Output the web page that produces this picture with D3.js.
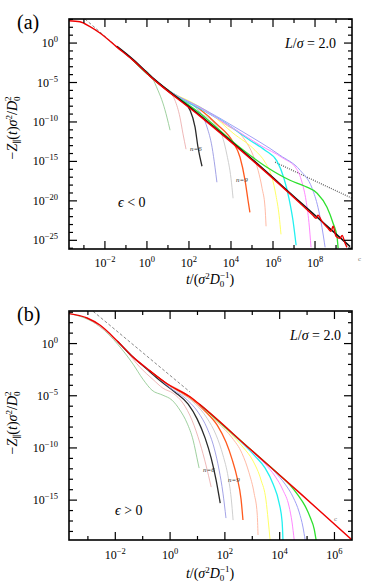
<!DOCTYPE html>
<html>
<head>
<meta charset="utf-8">
<script src="https://cdn.jsdelivr.net/npm/d3@7"></script>
<style>
  body { margin: 0; background: #fff; }
  svg { display: block; font-family: 'Liberation Serif', 'DejaVu Serif', serif; }
</style>
</head>
<body>
<div id="chart"></div>
<script>
// all values are log10 exponents: [log10 t, log10 (-Z)]

// ---- panel (a), eps < 0 ----
const xMajorA = [-2, 0, 2, 4, 6, 8];
const xMinorA = [-3, -1, 1, 3, 5, 7, 9];
const yMajorA = [0, -5, -10, -15, -20, -25];
const yMinorA = d3.range(-26, 4).filter((d) => d % 5 !== 0);

const redA = [
  [-3.71, 2.83], [-3.19, 2.7], [-2.71, 2.07], [-2.24, 1.27], [-1.43, -0.51], [-0.67, -2.16],
  [0.14, -4.19], [2.52, -9.26], [4.9, -14.59], [7.29, -20.3], [7.9, -21.83], [8.05, -22.21],
  [8.14, -21.83], [8.33, -22.59], [8.62, -23.48], [8.76, -23.86], [8.86, -23.22], [9.0, -24.49],
  [9.19, -24.75], [9.29, -24.37], [9.43, -25.38], [9.52, -25.89],
];
const blackA = [[-1.43, -0.42], [-0.67, -2.06], [0.14, -4.08], [2.52, -9.15], [4.9, -14.47], [7.29, -20.15], [9.67, -25.8]];
const n4A = [[-0.67, -2.16], [-0.33, -3.0], [0.24, -4.35], [0.52, -5.96], [0.76, -7.61], [0.95, -9.39], [1.1, -11.04]];
const n5A = [[-0.67, -2.16], [0.14, -4.19], [0.6, -5.2], [0.95, -5.95], [1.33, -7.23], [1.57, -9.39], [1.71, -11.42], [1.86, -13.45]];
const n6A = [[-0.67, -2.16], [0.14, -4.19], [1.1, -6.3], [1.71, -7.45], [2.05, -8.5], [2.29, -10.66], [2.43, -13.2], [2.62, -15.61]];
const n7A = [[-0.67, -2.16], [0.14, -4.19], [1.1, -6.2], [1.57, -7.1], [2.52, -8.7], [2.86, -10.66], [3.1, -13.2], [3.24, -15.74], [3.33, -17.64]];
const n8A = [[-0.67, -2.16], [0.14, -4.19], [1.1, -6.2], [2.0, -7.9], [2.52, -8.85], [3.24, -10.28], [3.57, -11.68], [3.81, -14.21], [4.0, -17.13], [4.1, -19.67]];
const n9A = [[-0.67, -2.16], [0.14, -4.19], [1.1, -6.15], [2.52, -8.38], [3.33, -10.28], [4.1, -12.56], [4.43, -14.47], [4.67, -17.39], [4.81, -19.92], [4.9, -21.45]];
const n10A = [[-0.67, -2.16], [0.14, -4.19], [1.1, -6.15], [1.57, -6.95], [2.52, -8.25], [3.71, -10.28], [4.67, -12.31], [5.05, -14.21], [5.29, -16.12], [5.48, -18.4], [5.62, -20.81], [5.67, -23.22]];
const n11A = [[-0.67, -2.16], [0.14, -4.19], [1.1, -6.15], [2.05, -7.4], [3.0, -8.9], [4.1, -11.42], [5.14, -13.58], [5.62, -15.1], [5.95, -17.01], [6.14, -19.29], [6.29, -21.83], [6.38, -24.24]];
const n12A = [[-0.67, -2.16], [0.14, -4.19], [1.1, -6.15], [2.52, -8.3], [3.57, -9.85], [4.9, -12.31], [5.62, -13.58], [6.19, -14.97], [6.52, -17.13], [6.76, -19.67], [6.95, -22.46], [7.1, -25.63]];
const n13A = [[-0.67, -2.16], [0.14, -4.19], [1.1, -6.15], [2.52, -8.2], [3.95, -10.53], [5.38, -12.94], [6.48, -14.59], [7.1, -15.86], [7.38, -17.64], [7.57, -19.92], [7.71, -22.72], [7.81, -25.89]];
const n14A = [[-0.67, -2.16], [0.14, -4.19], [1.1, -6.15], [2.52, -8.1], [4.43, -11.04], [6.33, -14.21], [7.29, -16.12], [7.86, -18.4], [8.14, -20.81], [8.33, -23.35], [8.48, -25.89]];
const n15A = [[-0.67, -2.16], [0.14, -4.19], [1.1, -6.2], [2.52, -8.9], [4.29, -12.94], [5.71, -15.74], [6.81, -17.39], [7.52, -18.15], [8.1, -19.04], [8.57, -20.81], [8.86, -22.84], [9.05, -24.62], [9.1, -26.02]];
const dottedA = [[6.1, -15.1], [9.76, -19.67]];
const dashedA = [[-2.95, 3.05], [0.62, -5.2]];

// ---- panel (b), eps > 0 ----
const xMajorB = [-2, 0, 2, 4, 6];
const xMinorB = [-3, -1, 1, 3, 5];
const yMajorB = [0, -5, -10, -15];
const yMinorB = d3.range(-18, 4).filter((d) => d % 5 !== 0);

const redB = [
  [-3.69, 2.87], [-3.03, 2.45], [-2.55, 1.75], [-1.93, 0.25], [-1.35, -1.3], [-0.73, -2.62],
  [-0.11, -3.85], [0.73, -5.1], [1.09, -5.85], [2.92, -10.11], [4.74, -14.33], [6.64, -18.82],
];
const n4B = [[-3.69, 2.9], [-2.55, 1.6], [-1.9, -0.1], [-1.35, -1.98], [-0.99, -3.42], [-0.66, -4.47], [-0.26, -4.95], [0.07, -5.42], [0.36, -6.38], [0.62, -7.62], [0.84, -9.25], [1.02, -11.45], [1.06, -11.93]];
const n5B = [[-3.03, 2.45], [-2.19, 0.85], [-1.64, -0.6], [-1.09, -2.3], [-0.62, -3.45], [-0.26, -4.28], [0.11, -4.76], [0.47, -5.71], [0.8, -7.34], [1.09, -9.54], [1.31, -11.64], [1.5, -13.75]];
const n6B = [[-1.93, 0.25], [-1.35, -1.3], [-0.73, -2.72], [-0.37, -3.55], [0.18, -4.66], [0.66, -5.81], [0.99, -7.24], [1.28, -9.06], [1.5, -10.97], [1.68, -13.08], [1.83, -15.28]];
const n7B = [[-1.35, -1.3], [-0.73, -2.62], [-0.36, -3.45], [0.0, -4.25], [0.55, -5.23], [1.02, -6.57], [1.35, -8.1], [1.61, -10.02], [1.79, -12.12], [1.93, -14.33], [2.04, -16.72]];
const n8B = [[-0.73, -2.62], [-0.36, -3.35], [0.0, -4.1], [0.37, -4.72], [0.91, -5.75], [1.35, -7.15], [1.68, -8.77], [1.93, -10.69], [2.12, -12.79], [2.23, -14.8], [2.3, -16.91]];
const n9B = [[-0.73, -2.62], [-0.11, -3.85], [0.37, -4.62], [0.73, -5.2], [1.28, -6.48], [1.72, -7.82], [2.04, -9.44], [2.26, -11.07], [2.45, -12.89], [2.59, -14.9], [2.66, -16.91]];
const n10B = [[-0.11, -3.85], [0.73, -5.1], [1.1, -5.95], [1.75, -7.59], [2.26, -9.02], [2.63, -10.55], [2.88, -12.37], [3.07, -14.38], [3.18, -16.33], [3.21, -18.34]];
const n11B = [[0.73, -5.1], [1.09, -5.85], [1.46, -6.8], [2.19, -8.58], [2.66, -9.92], [3.03, -11.26], [3.32, -13.08], [3.5, -14.99], [3.58, -16.91], [3.65, -18.82]];
const n12B = [[1.09, -5.85], [1.46, -6.71], [1.83, -7.6], [2.56, -9.35], [3.1, -10.78], [3.47, -11.93], [3.76, -13.46], [3.98, -15.28], [4.09, -17.1], [4.12, -18.82]];
const n13B = [[1.09, -5.85], [1.46, -6.71], [1.83, -7.57], [2.19, -8.45], [2.92, -10.21], [3.47, -11.55], [3.83, -12.7], [4.12, -14.04], [4.34, -15.57], [4.45, -17.1], [4.53, -18.82]];
const n14B = [[1.09, -5.85], [1.83, -7.57], [2.19, -8.41], [2.56, -9.3], [3.29, -10.98], [3.83, -12.32], [4.2, -13.47], [4.49, -14.71], [4.71, -16.14], [4.85, -17.58], [4.93, -18.82]];
const n15B = [[1.09, -5.85], [1.83, -7.57], [2.19, -8.41], [2.56, -9.27], [3.47, -11.36], [4.02, -12.65], [4.38, -13.56], [4.67, -14.52], [4.93, -15.57], [5.11, -16.62], [5.26, -17.77], [5.33, -18.82]];
const dashedB = [[-2.81, 3.09], [0.73, -4.65]];

// colours for n = 4 ... 15
const familyColors = ['#86c486', '#eaa6a6', '#2a2a2a', '#8c8ce0', '#c9c9c9', '#ff5a1e',
  '#ffbba6', '#ffff66', '#22f0f0', '#ff88ff', '#a0a0f6', '#2ee02e'];
const familyWidths = [0.8, 0.8, 1.3, 0.8, 0.9, 1.3, 1.0, 1.0, 1.3, 1.0, 1.0, 1.3];

const W = 380, H = 582;
const svg = d3.select('#chart').append('svg').attr('width', W).attr('height', H);

function pow10(text, e) {
  text.text('10');
  text.append('tspan').attr('dy', -5).attr('font-size', 8.5).text(e < 0 ? '\u2212' + -e : e);
}

function drawPanel(cfg) {
  const { left, right, top, bottom, xDom, yDom } = cfg;
  const x = d3.scaleLog().domain(xDom.map((d) => 10 ** d)).range([left, right]);
  const y = d3.scaleLog().domain(yDom.map((d) => 10 ** d)).range([bottom, top]);
  const g = svg.append('g').attr('id', cfg.id);

  const clipId = 'clip-' + cfg.id;
  g.append('clipPath').attr('id', clipId)
    .append('rect').attr('x', left).attr('y', top).attr('width', right - left).attr('height', bottom - top);

  const line = d3.line()
    .x((d) => x(10 ** d[0]))
    .y((d) => y(10 ** d[1]))
    .curve(d3.curveMonotoneX);

  const plot = g.append('g').attr('clip-path', `url(#${clipId})`);

  // reference lines
  plot.append('path').attr('d', line(cfg.dashed)).attr('fill', 'none')
    .attr('stroke', '#555').attr('stroke-width', 0.7).attr('stroke-dasharray', '3,2');
  if (cfg.dotted) {
    plot.append('path').attr('d', d3.line().x((d) => x(10 ** d[0])).y((d) => y(10 ** d[1]))(cfg.dotted))
      .attr('fill', 'none').attr('stroke', '#666').attr('stroke-width', 1.3).attr('stroke-dasharray', '1,1.2');
  }

  // n = 4 ... 15
  plot.selectAll('path.fam')
    .data(cfg.family)
    .enter()
    .append('path')
    .attr('class', 'fam')
    .attr('d', (d) => line(d))
    .attr('fill', 'none')
    .attr('stroke', (d, i) => familyColors[i])
    .attr('stroke-width', (d, i) => familyWidths[i]);

  if (cfg.black) {
    plot.append('path').attr('d', line(cfg.black)).attr('fill', 'none')
      .attr('stroke', '#111').attr('stroke-width', 1.5);
  }
  plot.append('path').attr('d', line(cfg.red)).attr('fill', 'none')
    .attr('stroke', '#ee0000').attr('stroke-width', 1.4);

  // ticks, inside on all four sides
  const majLen = 8, minLen = 4;
  const tk = g.append('g').attr('stroke', '#000').attr('stroke-width', 1.2);
  const xt = cfg.xMajor.map((d) => [d, majLen]).concat(cfg.xMinor.map((d) => [d, minLen]));
  const yt = cfg.yMajor.map((d) => [d, majLen]).concat(cfg.yMinor.map((d) => [d, minLen]));
  xt.forEach(([d, l]) => {
    const px = x(10 ** d);
    tk.append('line').attr('x1', px).attr('x2', px).attr('y1', bottom).attr('y2', bottom - l);
    tk.append('line').attr('x1', px).attr('x2', px).attr('y1', top).attr('y2', top + l);
  });
  yt.forEach(([d, l]) => {
    const py = y(10 ** d);
    tk.append('line').attr('y1', py).attr('y2', py).attr('x1', left).attr('x2', left + l);
    tk.append('line').attr('y1', py).attr('y2', py).attr('x1', right).attr('x2', right - l);
  });

  g.append('rect').attr('x', left).attr('y', top).attr('width', right - left).attr('height', bottom - top)
    .attr('fill', 'none').attr('stroke', '#000').attr('stroke-width', 1.6);

  // tick labels
  cfg.xMajor.forEach((d) => {
    g.append('text').attr('x', x(10 ** d)).attr('y', bottom + cfg.xTickDy)
      .attr('text-anchor', 'middle').attr('font-size', 12).call(pow10, d);
  });
  cfg.yMajor.forEach((d) => {
    g.append('text').attr('x', left - 11).attr('y', y(10 ** d) + 4)
      .attr('text-anchor', 'end').attr('font-size', 12).call(pow10, d);
  });

  // panel letter
  g.append('text').attr('x', 17).attr('y', top + 10).attr('font-size', 20).text(cfg.letter);

  // y label
  const yl = g.append('text').attr('transform', `translate(17, ${cfg.yLabelMid}) rotate(-90)`)
    .attr('text-anchor', 'middle').attr('font-size', 14);
  yl.append('tspan').text('\u2212');
  yl.append('tspan').attr('font-style', 'italic').text('Z');
  yl.append('tspan').attr('font-size', 9).attr('dy', 3).text('\u2225');
  yl.append('tspan').attr('dy', -3).text('(');
  yl.append('tspan').attr('font-style', 'italic').text('t');
  yl.append('tspan').text(')');
  yl.append('tspan').attr('font-style', 'italic').text('\u03c3');
  yl.append('tspan').attr('font-size', 9).attr('dy', -5).text('2');
  yl.append('tspan').attr('dy', 5).text('/');
  yl.append('tspan').attr('font-style', 'italic').text('D');
  yl.append('tspan').attr('font-size', 9).attr('dy', 3).text('0');
  yl.append('tspan').attr('font-size', 9).attr('dx', -4.5).attr('dy', -9).text('2');

  // x label
  const xl = g.append('text').attr('x', 210).attr('y', cfg.xLabelY)
    .attr('text-anchor', 'middle').attr('font-size', 14);
  xl.append('tspan').attr('font-style', 'italic').text('t');
  xl.append('tspan').text('/(');
  xl.append('tspan').attr('font-style', 'italic').text('\u03c3');
  xl.append('tspan').attr('font-size', 9).attr('dy', -5).text('2');
  xl.append('tspan').attr('dy', 5).attr('font-style', 'italic').text('D');
  xl.append('tspan').attr('font-size', 9).attr('dy', 3).text('0');
  xl.append('tspan').attr('font-size', 9).attr('dx', -4.5).attr('dy', -9).text('\u22121');
  xl.append('tspan').attr('dy', 6).text(')');

  // L / sigma
  const ls = g.append('text').attr('x', cfg.lsX).attr('y', top + 29)
    .attr('text-anchor', 'end').attr('font-size', 14);
  ls.append('tspan').attr('font-style', 'italic').text('L');
  ls.append('tspan').text('/');
  ls.append('tspan').attr('font-style', 'italic').text('\u03c3');
  ls.append('tspan').text(' = 2.0');

  // epsilon
  const ep = g.append('text').attr('x', cfg.epsPos[0]).attr('y', cfg.epsPos[1]).attr('font-size', 14);
  ep.append('tspan').attr('font-style', 'italic').text('\u03f5');
  ep.append('tspan').text(cfg.epsText);

  // small labels
  const small = (px, py, t) => g.append('text').attr('x', px).attr('y', py)
    .attr('font-size', 7).attr('fill', '#333').text(t);
  small(cfg.n6Pos[0], cfg.n6Pos[1], 'n=6').attr('font-style', 'italic');
  small(cfg.n9Pos[0], cfg.n9Pos[1], 'n=9').attr('font-style', 'italic');
  small(cfg.cPos[0], cfg.cPos[1], 'c').attr('fill', '#777');
}

drawPanel({
  id: 'a', letter: '(a)', left: 69, right: 352, top: 19, bottom: 249,
  xDom: [-3.71, 9.76], yDom: [-26.1, 3.05],
  xMajor: xMajorA, xMinor: xMinorA, yMajor: yMajorA, yMinor: yMinorA,
  red: redA, black: blackA, dashed: dashedA, dotted: dottedA,
  family: [n4A, n5A, n6A, n7A, n8A, n9A, n10A, n11A, n12A, n13A, n14A, n15A],
  yLabelMid: 128, xLabelY: 284, xTickDy: 18, lsX: 336, epsPos: [118, 207], epsText: ' < 0',
  n6Pos: [190, 151], n9Pos: [236, 182], cPos: [358, 261],
});

drawPanel({
  id: 'b', letter: '(b)', left: 69, right: 352, top: 311, bottom: 540,
  xDom: [-3.69, 6.64], yDom: [-18.82, 3.12],
  xMajor: xMajorB, xMinor: xMinorB, yMajor: yMajorB, yMinor: yMinorB,
  red: redB, black: null, dashed: dashedB, dotted: null,
  family: [n4B, n5B, n6B, n7B, n8B, n9B, n10B, n11B, n12B, n13B, n14B, n15B],
  yLabelMid: 423, xLabelY: 578, xTickDy: 19, lsX: 341, epsPos: [115, 515], epsText: ' > 0',
  n6Pos: [203, 472], n9Pos: [228, 482], cPos: [334, 521],
});
</script>
</body>
</html>
